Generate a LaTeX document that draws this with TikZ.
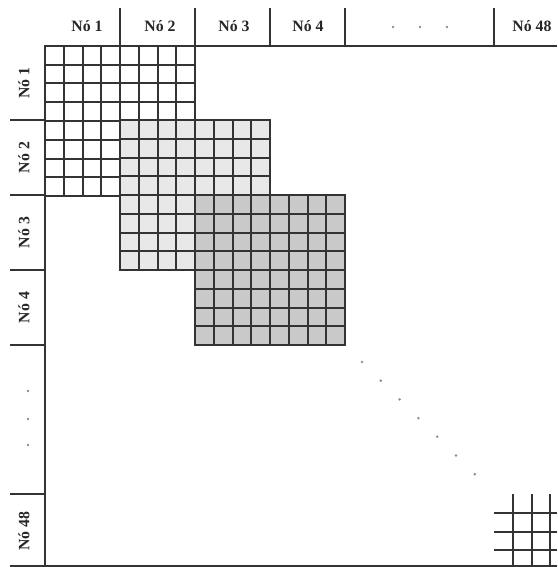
\documentclass[tikz,border=0pt]{standalone}
\usepackage{fontspec}
\setmainfont{Liberation Serif}

\begin{document}
\begin{tikzpicture}[x=1pt, y=-1pt, line width=2pt,
  hdr/.style={font=\fontsize{15.8}{18}\selectfont\bfseries, inner sep=0pt, text=black!85},
  gridline/.style={draw=black!80},
  dotmark/.style={fill=black!45}]
  \useasboundingbox (0,0) rectangle (557,567);
  \clip (0,0) rectangle (557,567);

  % Header frame
  \draw[gridline] (45,46) -- (557,46);
  \draw[gridline] (45,46) -- (45,566);
  \draw[gridline] (10,566) -- (557,566);
  \foreach \p in {120,195,270,345,494} {
    \draw[gridline] (\p,8) -- (\p,46);
    \draw[gridline] (10,\p) -- (45,\p);
  }

  % Column labels
  \node[hdr] (c1) at (87,26) {Nó 1};
  \node[hdr] (c2) at (160,26) {Nó 2};
  \node[hdr] (c3) at (234,26) {Nó 3};
  \node[hdr] (c4) at (308,26) {Nó 4};
  \node[hdr] (c48) at (532,26) {Nó 48};

  % Row labels
  \node[hdr, rotate=90] (r1) at (24,83) {Nó 1};
  \node[hdr, rotate=90] (r2) at (24,157.5) {Nó 2};
  \node[hdr, rotate=90] (r3) at (24,232.5) {Nó 3};
  \node[hdr, rotate=90] (r4) at (24,307.5) {Nó 4};
  \node[hdr, rotate=90] (r48) at (24,531) {Nó 48};

  % Element blocks
  \foreach \x/\y/\c in {45/46/white, 120/120/black!9, 195/195/black!21} {
    \filldraw[gridline, fill=\c] (\x,\y) rectangle ++(150,150);
    \foreach \k in {1,...,7} {
      \draw[gridline] (\x+\k*18.75,\y) -- ++(0,150);
      \draw[gridline] (\x,\y+\k*18.75) -- ++(150,0);
    }
  }

  % Last block (cut at the edge)
  \foreach \k in {1,2,3} {
    \draw[gridline] (494+\k*18.75,494) -- (494+\k*18.75,566);
    \draw[gridline] (494,494+\k*18.75) -- (557,494+\k*18.75);
  }

  % Ellipsis dots
  \foreach \p in {393,420,447} \fill[dotmark] (\p,27) circle (1.4);
  \foreach \p in {391,419,445} \fill[dotmark] (28,\p) circle (1.4);
  \foreach \k in {0,...,6} \fill[dotmark] (362+\k*18.8,362+\k*18.7) circle (1.4);
\end{tikzpicture}
\end{document}
